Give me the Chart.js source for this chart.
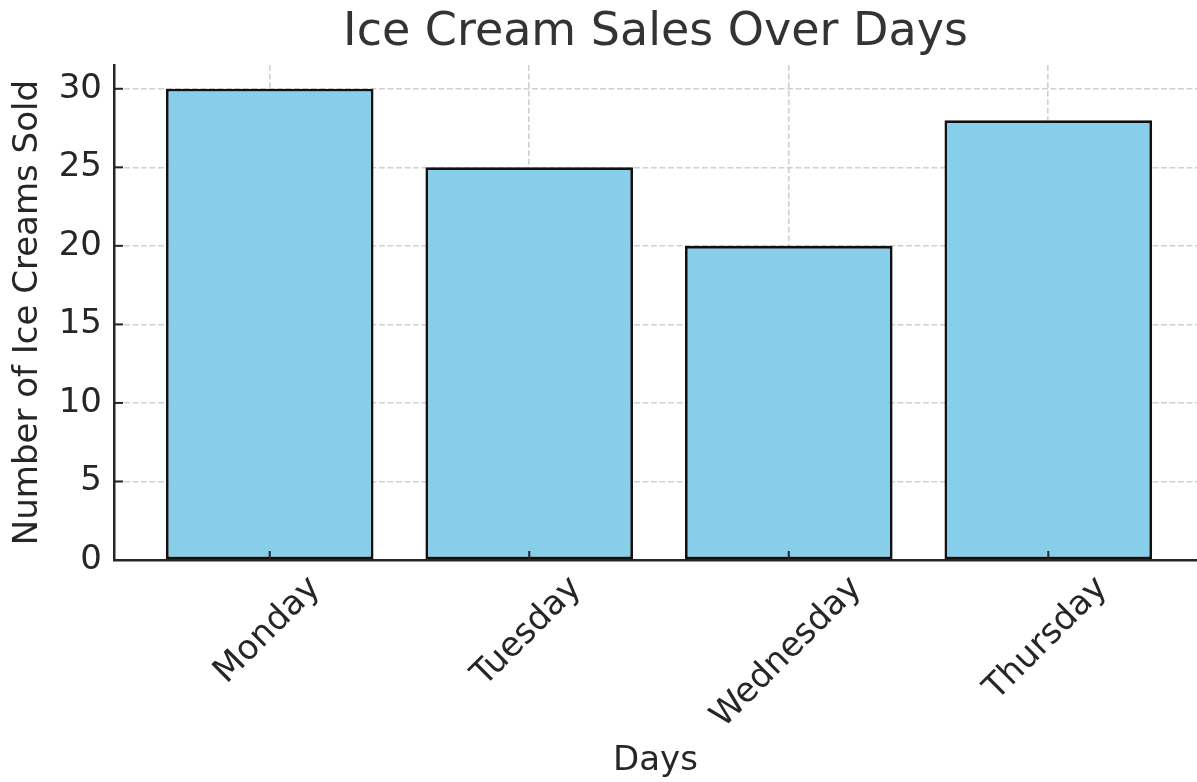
<!DOCTYPE html>
<html>
<head>
<meta charset="utf-8">
<script src="https://cdn.jsdelivr.net/npm/chart.js@4"></script>
<style>
  body { margin: 0; background: #fff; }
  canvas { display: block; }
</style>
</head>
<body>
<canvas id="chart" width="1197" height="782"></canvas>
<script>
// chart data
const days = ['Monday', 'Tuesday', 'Wednesday', 'Thursday'];
const sales = [30, 25, 20, 28];
const yTicks = [0, 5, 10, 15, 20, 25, 30];

const textColor = '#262626';
const gridDash = [5.9, 2.6];
const gridColor = 'rgba(176, 176, 176, 0.6)';

Chart.defaults.font.family = "'DejaVu Sans', sans-serif";

// matplotlib style ticks pointing into the plot, plus rotated day labels centred on the tick
const axisExtras = {
    id: 'axisExtras',
    afterDraw(chart) {
        const ctx = chart.ctx;
        const area = chart.chartArea;
        const xs = chart.scales.x;
        const ys = chart.scales.y;
        ctx.save();
        ctx.strokeStyle = textColor;
        ctx.lineWidth = 2;
        yTicks.forEach(v => {
            const py = ys.getPixelForValue(v);
            ctx.beginPath();
            ctx.moveTo(area.left, py);
            ctx.lineTo(area.left + 9, py);
            ctx.stroke();
        });
        days.forEach((d, i) => {
            const px = xs.getPixelForValue(i);
            ctx.beginPath();
            ctx.moveTo(px, area.bottom);
            ctx.lineTo(px, area.bottom - 9);
            ctx.stroke();
        });

        ctx.font = "34px 'DejaVu Sans'";
        ctx.fillStyle = textColor;
        ctx.textAlign = 'center';
        ctx.textBaseline = 'middle';
        days.forEach((d, i) => {
            const w = ctx.measureText(d).width;
            const px = xs.getPixelForValue(i) - 2;
            const py = area.bottom + 23 + w * 0.354;
            ctx.save();
            ctx.translate(px, py);
            ctx.rotate(-Math.PI / 4);
            ctx.fillText(d, 0, 0);
            ctx.restore();
        });
        ctx.restore();
    }
};

const ctx = document.getElementById('chart').getContext('2d');
const salesChart = new Chart(ctx, {
    type: 'bar',
    data: {
        datasets: [{
            label: 'Ice Creams Sold',
            data: sales.map((v, i) => ({ x: i, y: v })),
            backgroundColor: '#87CEEB',
            borderColor: '#111111',
            borderWidth: 2.8,
            borderSkipped: false,
            barPercentage: 0.8,
            categoryPercentage: 1.0
        }]
    },
    options: {
        responsive: false,
        animation: false,
        layout: { padding: 0 },
        plugins: {
            legend: { display: false },
            tooltip: { enabled: false },
            title: {
                display: true,
                text: 'Ice Cream Sales Over Days',
                fullSize: false,
                color: '#333333',
                font: { size: 46, weight: 'normal' },
                padding: { top: 5, bottom: 5 }
            }
        },
        scales: {
            x: {
                type: 'linear',
                min: -0.6,
                max: 3.573,
                offset: false,
                z: 1,
                afterBuildTicks: scale => {
                    scale.ticks = days.map((d, i) => ({ value: i }));
                },
                afterFit: scale => { scale.height = 222; },
                ticks: { display: false },
                grid: {
                    color: gridColor,
                    lineWidth: 1.6,
                    offset: false,
                    drawTicks: false
                },
                border: { color: textColor, width: 2.5, dash: gridDash },
                title: {
                    display: true,
                    text: 'Days',
                    color: textColor,
                    font: { size: 34 },
                    padding: { top: 0, bottom: 0 }
                }
            },
            y: {
                min: 0,
                max: 31.5,
                z: 1,
                afterBuildTicks: scale => {
                    scale.ticks = yTicks.map(v => ({ value: v }));
                },
                afterFit: scale => { scale.width = 114; },
                ticks: {
                    color: textColor,
                    font: { size: 34 },
                    padding: 12
                },
                grid: {
                    color: gridColor,
                    lineWidth: 1.6,
                    drawTicks: false
                },
                border: { color: textColor, width: 2.5, dash: gridDash },
                title: {
                    display: true,
                    text: 'Number of Ice Creams Sold',
                    color: textColor,
                    font: { size: 34 },
                    padding: { top: 8, bottom: 0 }
                }
            }
        }
    },
    plugins: [axisExtras]
});
</script>
</body>
</html>
